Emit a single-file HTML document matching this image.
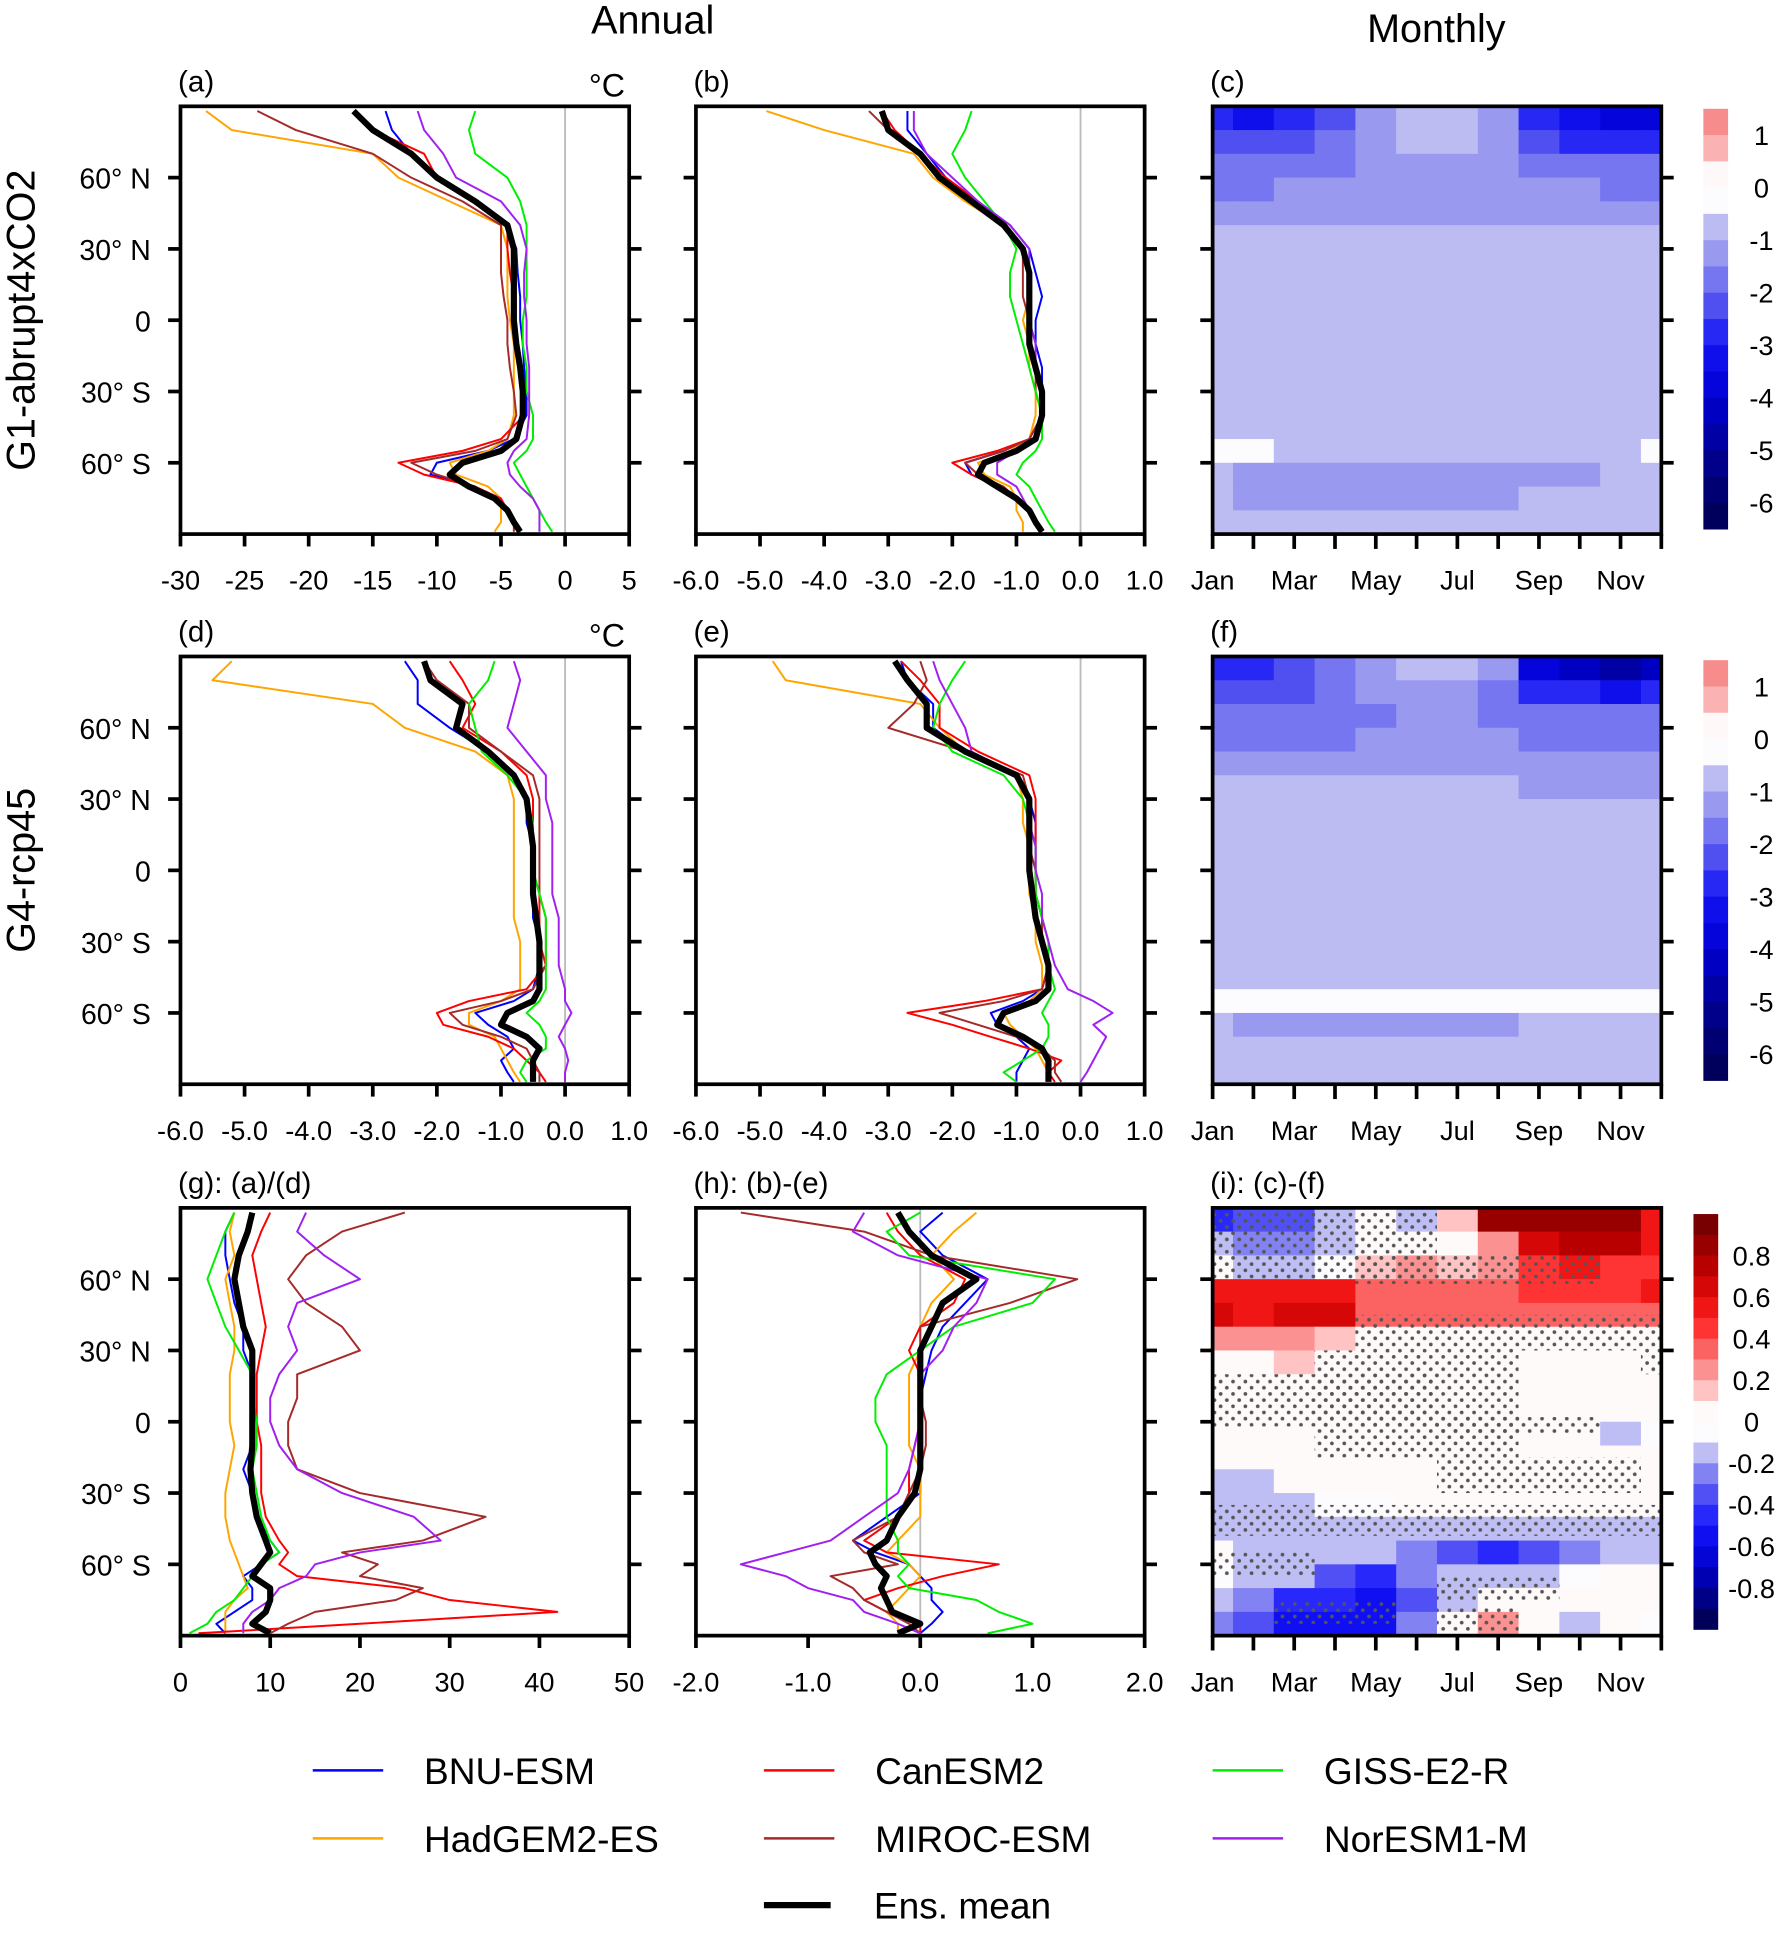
<!DOCTYPE html>
<html><head><meta charset="utf-8"><style>
html,body{margin:0;padding:0;background:#fff}
svg{display:block}
text{font-family:"Liberation Sans",sans-serif;fill:#000}
</style></head><body>
<svg id="fig" width="1780" height="1941" viewBox="0 0 1440 1570" preserveAspectRatio="none" xmlns="http://www.w3.org/2000/svg">
<defs>
<pattern id="stip" width="10" height="10" patternUnits="userSpaceOnUse"><circle cx="2.5" cy="2.5" r="1.5" fill="#555"/><circle cx="7.5" cy="7.5" r="1.5" fill="#555"/></pattern>
</defs>
</svg>
<script>
const lats=[88,80,70,60,50,40,30,20,10,0,-10,-20,-30,-40,-50,-55,-60,-65,-70,-75,-80,-85,-89];
const seriesNames=["BNU-ESM","HadGEM2-ES","CanESM2","MIROC-ESM","GISS-E2-R","NorESM1-M","Ens. mean"];
const seriesColors=["#0000ff","#ffa500","#ff0000","#a52a2a","#00ee00","#a020f0","#000000"];
// panel a
const aBNU=[-14,-13.5,-12,-10,-7,-4.5,-3.8,-3.7,-3.5,-3.5,-3.3,-3.2,-3,-3,-4,-6,-10,-10.5,-7,-5.5,-4.5,-4,-3.5];
const aHad=[-28,-26,-15,-13,-9,-5,-4.5,-4.5,-4.5,-4.3,-4,-4,-4,-4,-4.5,-6,-9,-8.5,-6,-5,-5,-5,-5.5];
const aCan=[-16.5,-15,-11,-10,-7,-4.5,-4.5,-4.3,-4,-4,-3.8,-3.5,-3.3,-3.2,-5,-8,-13,-11,-7,-5,-4.5,-4,-3.5];
const aMIR=[-24,-21,-15,-12,-8,-5,-5,-5,-4.8,-4.5,-4.5,-4.3,-4,-3.8,-4.5,-7,-12,-10,-7,-5.5,-4.5,-4,-4];
const aGIS=[-7,-7.5,-7,-4.5,-3.5,-3,-3,-3,-3,-3.3,-3.3,-3,-3,-2.5,-2.5,-3,-4,-3.5,-3,-2.5,-2,-1.5,-1];
const aNor=[-11.5,-11,-9.5,-8.5,-5,-3.5,-3,-3.2,-3.2,-3,-3,-2.8,-2.8,-2.8,-3,-4,-4.5,-4.3,-3.5,-2.5,-2,-2,-2];
const aEns=[-16.5,-15,-12,-10,-7,-4.5,-4,-4,-4,-4,-3.8,-3.5,-3.3,-3.3,-3.8,-5,-8,-9,-7.5,-5.5,-4.5,-4,-3.5];
// panel b
const bBNU=[-2.7,-2.7,-2.4,-2.1,-1.6,-1.1,-0.8,-0.7,-0.6,-0.7,-0.7,-0.6,-0.6,-0.6,-0.8,-1.2,-1.8,-1.7,-1.3,-1,-0.8,-0.7,-0.6];
const bHad=[-4.9,-4,-2.6,-2.3,-1.8,-1.2,-0.9,-0.8,-0.8,-0.9,-0.8,-0.8,-0.7,-0.7,-0.8,-1.1,-1.6,-1.5,-1.1,-1,-1,-0.9,-0.9];
const bCan=[-3.1,-2.9,-2.5,-2.1,-1.6,-1.2,-0.9,-0.8,-0.8,-0.8,-0.8,-0.7,-0.6,-0.6,-0.8,-1.3,-2,-1.7,-1.3,-1,-0.8,-0.7,-0.6];
const bMIR=[-3.3,-3,-2.5,-2.2,-1.7,-1.2,-0.9,-0.9,-0.9,-0.8,-0.8,-0.7,-0.7,-0.6,-0.8,-1.2,-1.8,-1.6,-1.2,-1,-0.8,-0.7,-0.6];
const bGIS=[-1.7,-1.8,-2,-1.8,-1.5,-1.2,-1,-1.1,-1.1,-1,-0.9,-0.8,-0.7,-0.6,-0.6,-0.7,-0.9,-1,-0.8,-0.7,-0.6,-0.5,-0.4];
const bNor=[-2.6,-2.6,-2.4,-2,-1.6,-1.1,-0.8,-0.8,-0.8,-0.8,-0.7,-0.7,-0.6,-0.6,-0.7,-1,-1.3,-1.3,-1,-0.9,-0.8,-0.7,-0.6];
const bEns=[-3.1,-3,-2.5,-2.2,-1.7,-1.2,-0.9,-0.8,-0.8,-0.8,-0.8,-0.7,-0.6,-0.6,-0.7,-1,-1.5,-1.6,-1.3,-1,-0.8,-0.7,-0.6];
// panel d
const dBNU=[-2.5,-2.3,-2.3,-1.8,-1.2,-0.8,-0.6,-0.6,-0.5,-0.5,-0.5,-0.5,-0.4,-0.4,-0.5,-0.8,-1.4,-1.2,-0.9,-0.8,-1,-0.9,-0.8];
const dHad=[-5.2,-5.5,-3,-2.5,-1.4,-0.9,-0.8,-0.8,-0.8,-0.8,-0.8,-0.8,-0.7,-0.7,-0.7,-1,-1.5,-1.5,-1.1,-1,-0.9,-0.8,-0.7];
const dCan=[-1.8,-1.6,-1.4,-1.6,-1,-0.6,-0.5,-0.5,-0.5,-0.5,-0.4,-0.4,-0.4,-0.3,-0.6,-1.5,-2,-1.9,-1.2,-0.8,-0.6,-0.4,-0.3];
const dMIR=[-2.2,-2,-1.5,-1.5,-1,-0.5,-0.4,-0.4,-0.4,-0.4,-0.4,-0.3,-0.3,-0.3,-0.5,-1,-1.8,-1.6,-1,-0.6,-0.5,-0.4,-0.4];
const dGIS=[-1.1,-1.2,-1.5,-1.4,-1.3,-0.9,-0.6,-0.5,-0.5,-0.5,-0.4,-0.3,-0.3,-0.3,-0.3,-0.4,-0.6,-0.4,-0.3,-0.3,-0.6,-0.7,-0.6];
const dNor=[-0.8,-0.7,-0.8,-0.9,-0.6,-0.3,-0.3,-0.2,-0.2,-0.2,-0.2,-0.1,-0.1,-0.1,0,0,0.1,0,-0.1,0,0.05,0,0];
const dEns=[-2.2,-2.1,-1.6,-1.7,-1.2,-0.8,-0.6,-0.55,-0.5,-0.5,-0.5,-0.45,-0.4,-0.4,-0.4,-0.5,-0.9,-1,-0.6,-0.4,-0.5,-0.5,-0.5];
// panel e
const eBNU=[-2.8,-2.7,-2.3,-2.3,-1.8,-1,-0.8,-0.7,-0.7,-0.7,-0.7,-0.6,-0.6,-0.5,-0.6,-0.9,-1.4,-1.3,-1,-0.8,-0.9,-1,-1];
const eHad=[-4.8,-4.6,-2.5,-2.2,-1.8,-1,-0.9,-0.9,-0.8,-0.8,-0.8,-0.7,-0.7,-0.6,-0.6,-0.8,-1.2,-1.1,-0.9,-0.7,-0.6,-0.5,-0.5];
const eCan=[-2.8,-2.5,-2.2,-2.2,-1.6,-0.8,-0.7,-0.7,-0.7,-0.7,-0.7,-0.6,-0.5,-0.5,-0.6,-1.5,-2.7,-2,-1.4,-0.8,-0.3,-0.5,-0.4];
const eMIR=[-2.5,-2.4,-2.6,-3,-1.8,-0.9,-0.8,-0.8,-0.8,-0.7,-0.7,-0.6,-0.6,-0.5,-0.6,-1.2,-2.2,-1.6,-1,-0.6,-0.4,-0.4,-0.3];
const eGIS=[-1.8,-2,-2.2,-2.3,-2,-1.2,-0.9,-0.8,-0.7,-0.7,-0.7,-0.6,-0.5,-0.5,-0.4,-0.5,-0.6,-0.5,-0.5,-0.6,-0.9,-1.2,-1];
const eNor=[-2.3,-2.2,-2,-1.8,-1.7,-1,-0.8,-0.8,-0.7,-0.7,-0.6,-0.6,-0.5,-0.4,-0.2,0.2,0.5,0.2,0.4,0.3,0.2,0.1,0];
const eEns=[-2.9,-2.7,-2.4,-2.4,-1.8,-1,-0.8,-0.8,-0.8,-0.8,-0.75,-0.7,-0.6,-0.5,-0.5,-0.7,-1.2,-1.3,-0.9,-0.6,-0.5,-0.5,-0.5];
// panel g
const gBNU=[6,5,5,5.5,6,7,7,8,8,8,8,7,8,8.5,10,11,9,7,8,8,6,4,5];
const gHad=[6,5.5,6,5,5.5,6,6,5.5,5.5,5.5,6,5.5,5,5,5.5,6,6.5,7,7.5,6,5,5,5];
const gCan=[10,9,8,8.5,9,9.5,9,8.5,8.5,8.5,9,9,9,9.5,11,12,11,13,25,30,42,20,2];
const gMIR=[25,18,14,12,14,18,20,13,13,12,12,13,20,34,27,18,22,20,27,24,15,12,10];
const gGIS=[6,5,4,3,4,5,6.5,8,8,8.5,8.5,8,8.5,9,10,11,9,8,7,6,4,3,1];
const gNor=[14,13,16,20,13,12,13,11,10,10,11,13,18,26,29,20,15,14,11,10,8,7,7];
const gEns=[8,7.5,6.5,6,6.5,7,8,8,8,8,8,7.8,8,8.5,9.5,10,9,8,10,10,9.5,8,10];
// panel h
const hBNU=[0.2,0,0.2,0.6,0.4,0.2,0.1,0.05,0,0,0,0,0,-0.3,-0.6,-0.4,-0.1,0,0.1,0.1,0.2,0.1,0];
const hHad=[0.5,0.3,0.1,0.3,0.1,0,0,-0.1,-0.1,-0.1,-0.1,0,0,0,-0.2,-0.3,-0.1,0,-0.1,-0.2,-0.3,-0.2,-0.2];
const hCan=[-0.3,-0.2,0,0.4,0.3,0,-0.1,0,0,0,-0.05,-0.1,-0.1,-0.2,-0.5,-0.3,0.7,0.2,-0.2,-0.5,-0.3,0,0];
const hMIR=[-1.6,-0.5,0.1,1.4,0.8,0,0,0,0,0.05,0.05,0,-0.1,-0.2,-0.6,-0.5,-0.2,-0.8,-0.6,-0.5,-0.3,-0.1,0];
const hGIS=[0,-0.3,-0.1,1.2,1,0.3,0,-0.3,-0.4,-0.4,-0.3,-0.3,-0.3,-0.3,-0.2,-0.2,-0.1,-0.2,-0.1,0.5,0.7,1,0.6];
const hNor=[-0.5,-0.6,-0.2,0.6,0.5,0.3,0.2,0,0,0,-0.05,-0.1,-0.2,-0.5,-0.8,-1.2,-1.6,-1.2,-1,-0.6,-0.5,-0.2,0];
const hEns=[-0.2,-0.1,0.1,0.5,0.2,0.1,0,0,0,0,0,0,-0.05,-0.2,-0.3,-0.45,-0.4,-0.3,-0.35,-0.3,-0.25,0,-0.2];
// heatmaps (rows: lat 85..-85 step 10; 12 months)
const hmLats=[85,75,65,55,45,35,25,15,5,-5,-15,-25,-35,-45,-55,-65,-75,-85];
const monthLabels=["Jan","Mar","May","Jul","Sep","Nov"];
const mapC=[
[-3,-3.5,-3,-2.5,-1.5,-1,-1,-1.5,-3,-3.5,-4,-4],
[-2.5,-2.5,-2.5,-2,-1.5,-1,-1,-1.5,-2.5,-3,-3,-3],
[-2,-2,-2,-1.8,-1.5,-1.2,-1.2,-1.5,-2,-2,-2,-2],
[-1.6,-1.6,-1.5,-1.5,-1.3,-1.2,-1.2,-1.3,-1.5,-1.5,-1.6,-1.6],
[-1.2,-1.2,-1.2,-1.2,-1.1,-1.1,-1.1,-1.2,-1.2,-1.3,-1.3,-1.2],
[-0.9,-0.9,-0.9,-0.9,-0.9,-0.9,-0.9,-0.9,-0.9,-0.9,-0.9,-0.9],
[-0.9,-0.9,-0.9,-0.9,-0.9,-0.9,-0.9,-0.9,-0.9,-0.9,-0.9,-0.9],
[-0.9,-0.9,-0.9,-0.9,-0.9,-0.9,-0.9,-0.9,-0.9,-0.9,-0.9,-0.9],
[-0.9,-0.9,-0.9,-0.9,-0.9,-0.9,-0.9,-0.9,-0.9,-0.9,-0.9,-0.9],
[-0.9,-0.9,-0.9,-0.9,-0.9,-0.9,-0.9,-0.9,-0.9,-0.9,-0.9,-0.9],
[-0.9,-0.9,-0.9,-0.9,-0.9,-0.9,-0.9,-0.9,-0.9,-0.9,-0.9,-0.9],
[-0.9,-0.9,-0.9,-0.9,-0.9,-0.9,-0.9,-0.9,-0.9,-0.9,-0.9,-0.9],
[-0.9,-0.9,-0.9,-0.9,-0.9,-0.9,-0.9,-0.9,-0.9,-0.9,-0.9,-0.9],
[-0.9,-0.9,-0.9,-0.9,-0.9,-0.9,-0.9,-0.9,-0.9,-0.9,-0.9,-0.9],
[-0.2,-0.2,-0.9,-0.9,-0.9,-0.9,-0.9,-0.9,-0.9,-0.9,-0.9,-0.2],
[-0.9,-1.1,-1.1,-1.2,-1.3,-1.5,-1.5,-1.3,-1.2,-1.1,-0.9,-0.9],
[-0.9,-1.1,-1.1,-1.1,-1.1,-1.1,-1.1,-1.1,-1,-0.9,-0.9,-0.9],
[-0.9,-0.9,-0.9,-0.9,-0.9,-0.9,-0.9,-0.9,-0.9,-0.9,-0.9,-0.9]];
const mapF=[
[-3,-3,-2.5,-2,-1.5,-0.8,-1,-1.5,-4,-4.5,-5,-4.5],
[-2.5,-2.5,-2.3,-2,-1.5,-1.2,-1.3,-1.8,-2.8,-3,-3.3,-3],
[-2,-2,-2,-1.8,-1.6,-1.5,-1.5,-1.6,-2,-2,-2,-2],
[-1.6,-1.6,-1.6,-1.6,-1.5,-1.5,-1.5,-1.5,-1.6,-1.6,-1.6,-1.6],
[-1.2,-1.2,-1.2,-1.2,-1.2,-1.2,-1.2,-1.2,-1.3,-1.3,-1.3,-1.2],
[-0.9,-0.9,-0.9,-0.9,-0.9,-0.9,-0.9,-0.9,-1.1,-1.1,-1.1,-1.1],
[-0.9,-0.9,-0.9,-0.9,-0.9,-0.9,-0.9,-0.9,-0.9,-0.9,-0.9,-0.9],
[-0.9,-0.9,-0.9,-0.9,-0.9,-0.9,-0.9,-0.9,-0.9,-0.9,-0.9,-0.9],
[-0.9,-0.9,-0.9,-0.9,-0.9,-0.9,-0.9,-0.9,-0.9,-0.9,-0.9,-0.9],
[-0.9,-0.9,-0.9,-0.9,-0.9,-0.9,-0.9,-0.9,-0.9,-0.9,-0.9,-0.9],
[-0.9,-0.9,-0.9,-0.9,-0.9,-0.9,-0.9,-0.9,-0.9,-0.9,-0.9,-0.9],
[-0.9,-0.9,-0.9,-0.9,-0.9,-0.9,-0.9,-0.9,-0.9,-0.9,-0.9,-0.9],
[-0.9,-0.9,-0.9,-0.9,-0.9,-0.9,-0.9,-0.9,-0.9,-0.9,-0.9,-0.9],
[-0.9,-0.9,-0.9,-0.9,-0.9,-0.9,-0.9,-0.9,-0.9,-0.9,-0.9,-0.9],
[-0.2,-0.2,-0.2,-0.2,-0.2,-0.2,-0.2,-0.2,-0.2,-0.2,-0.2,-0.2],
[-0.9,-1.1,-1.1,-1.2,-1.2,-1.3,-1.2,-1.1,-0.9,-0.9,-0.9,-0.9],
[-0.9,-0.9,-0.9,-0.9,-0.9,-0.9,-0.9,-0.9,-0.9,-0.9,-0.9,-0.9],
[-0.9,-0.9,-0.9,-0.9,-0.9,-0.9,-0.9,-0.9,-0.9,-0.9,-0.9,-0.9]];
const mapI=[
[-0.5,-0.4,-0.4,-0.2,0,-0.15,0.15,0.8,0.85,0.85,0.85,0.5],
[-0.2,-0.3,-0.3,-0.15,0.05,0.05,0.05,0.25,0.6,0.7,0.75,0.5],
[0.02,-0.2,-0.15,-0.1,0.15,0.25,0.15,0.25,0.4,0.5,0.45,0.4],
[0.5,0.5,0.5,0.5,0.35,0.35,0.35,0.35,0.4,0.45,0.4,0.55],
[0.6,0.55,0.6,0.6,0.3,0.3,0.3,0.3,0.3,0.3,0.3,0.3],
[0.2,0.2,0.2,0.15,0.05,0.05,0.02,0.02,0.02,0.02,0.02,0.02],
[0.05,0.05,0.1,0.05,0.02,0,0,0,0,0,0,0],
[0.02,0.02,0.02,0.02,0,0,0,0,0,0,0,0],
[0,0,0,0,0,0,0,0,0,0,0,0],
[0,0,0,0,0,0,0,0,0,0,-0.12,-0.02],
[0,0,0,0,0,0,0,0,0,0,0,0],
[-0.12,-0.12,0,0,0,0,0,0.02,0,0,0,0],
[-0.12,-0.12,-0.12,-0.1,-0.1,0,0,0,0,0,0,0],
[-0.15,-0.15,-0.15,-0.15,-0.15,-0.15,-0.15,-0.2,-0.2,-0.2,-0.2,-0.15],
[0,-0.12,-0.12,-0.15,-0.15,-0.3,-0.4,-0.45,-0.4,-0.3,-0.15,-0.12],
[-0.1,-0.12,-0.12,-0.35,-0.5,-0.3,-0.2,-0.2,-0.2,-0.1,0.02,0],
[-0.2,-0.3,-0.5,-0.5,-0.6,-0.35,-0.12,0,0,0,0.02,0],
[-0.3,-0.4,-0.6,-0.6,-0.55,-0.3,0,0.2,0,-0.12,0,-0.1]];

const svg=document.getElementById('fig');
const NS="http://www.w3.org/2000/svg";
function el(tag,attrs,parent){const e=document.createElementNS(NS,tag);for(const k in attrs)e.setAttribute(k,attrs[k]);(parent||svg).appendChild(e);return e;}
function txt(s,x,y,size,anchor,parent){const t=el('text',{x:x,y:y,'font-size':size,'text-anchor':anchor||'middle'},parent);t.textContent=s;return t;}

const colX=[146,563,981], W=363, rowY=[86,531,977], H=346;
function yLat(row,lat){return rowY[row]+(90-lat)/180*H;}

function profilePanel(name,col,row,xmin,xmax,ticks,tickLabels,series,zeroLine,label,unit){
  const g=el('g',{});
  
  
  const x0=colX[col], y0=rowY[row];
  const xs=v=>x0+(v-xmin)/(xmax-xmin)*W;
  if(zeroLine){const z=el('line',{x1:xs(0),x2:xs(0),y1:y0,y2:y0+H,stroke:'#bbb','stroke-width':1.5},g);
    }
  series.forEach((arr,i)=>{
    const pts=arr.map((v,j)=>xs(v).toFixed(1)+','+yLat(row,lats[j]).toFixed(1)).join(' ');
    const p=el('polyline',{points:pts,fill:'none',stroke:seriesColors[i],'stroke-width':i==6?5:1.6,'stroke-linejoin':'round'},g);
    
    
  });
  const f=el('rect',{x:x0,y:y0,width:W,height:H,fill:'none',stroke:'#000','stroke-width':3},g);
  
  ticks.forEach((v,i)=>{
    el('line',{x1:xs(v),x2:xs(v),y1:y0+H,y2:y0+H+10,stroke:'#000','stroke-width':3},g);
    const t=txt(tickLabels[i],xs(v),y0+H+45,22,'middle',g);
    
  });
  latAxis(g,x0,row);
  const l=txt(label,x0-2,y0-12,24,'start',g);
  
  if(unit){const u=txt('°C',x0+W-18,y0-8,26,'middle',g);}
}
const latTicks=[60,30,0,-30,-60];
const latLabels=["60° N","30° N","0","30° S","60° S"];
function latAxis(g,x0,row){
  latTicks.forEach((lt,i)=>{
    const y=yLat(row,lt);
    el('line',{x1:x0-10,x2:x0,y1:y,y2:y,stroke:'#000','stroke-width':3},g);
    el('line',{x1:x0+W,x2:x0+W+10,y1:y,y2:y,stroke:'#000','stroke-width':3},g);
    if(x0<200){const t=txt(latLabels[i],x0-24,y+9,23,'end',g);
      }
  });
}
const tA=[-30,-25,-20,-15,-10,-5,0,5], tAl=tA.map(String);
const t6=[-6,-5,-4,-3,-2,-1,0,1], t6l=t6.map(v=>v.toFixed(1));
const tG=[0,10,20,30,40,50], tGl=tG.map(String);
const tH=[-2,-1,0,1,2], tHl=tH.map(v=>v.toFixed(1));
profilePanel('panel-a',0,0,-30,5,tA,tAl,[aBNU,aHad,aCan,aMIR,aGIS,aNor,aEns],true,'(a)',true);
profilePanel('panel-b',1,0,-6,1,t6,t6l,[bBNU,bHad,bCan,bMIR,bGIS,bNor,bEns],true,'(b)',false);
profilePanel('panel-d',0,1,-6,1,t6,t6l,[dBNU,dHad,dCan,dMIR,dGIS,dNor,dEns],true,'(d)',true);
profilePanel('panel-e',1,1,-6,1,t6,t6l,[eBNU,eHad,eCan,eMIR,eGIS,eNor,eEns],true,'(e)',false);
profilePanel('panel-g',0,2,0,50,tG,tGl,[gBNU,gHad,gCan,gMIR,gGIS,gNor,gEns],false,'(g): (a)/(d)',false);
profilePanel('panel-h',1,2,-2,2,tH,tHl,[hBNU,hHad,hCan,hMIR,hGIS,hNor,hEns],true,'(h): (b)-(e)',false);

function mix(a,b,t){return 'rgb('+a.map((v,i)=>Math.round(v+(b[i]-v)*t)).join(',')+')';}
function lerpStops(stops,v){
  if(v<=stops[0][0])return mix(stops[0][1],stops[0][1],0);
  for(let i=1;i<stops.length;i++){if(v<=stops[i][0]){const t=(v-stops[i-1][0])/(stops[i][0]-stops[i-1][0]);return mix(stops[i-1][1],stops[i][1],t);}}
  return mix(stops[stops.length-1][1],stops[stops.length-1][1],0);
}
const tempStops=[[-6.5,[0,0,80]],[-5,[0,0,150]],[-4,[0,0,210]],[-3,[20,20,245]],[-2,[100,100,240]],[-1,[170,170,240]],[-0.5,[205,205,245]],[-0.25,[252,252,255]],[0.25,[255,248,248]],[0.5,[252,205,205]],[1,[248,150,150]],[1.5,[245,130,130]]];
const divStops=[[-0.95,[0,0,90]],[-0.7,[0,0,200]],[-0.5,[20,20,255]],[-0.3,[100,100,240]],[-0.15,[190,190,245]],[-0.05,[252,252,255]],[0.05,[255,250,250]],[0.15,[255,195,195]],[0.3,[250,120,120]],[0.5,[255,30,30]],[0.7,[200,0,0]],[0.95,[120,0,0]]];
function qTemp(v){return lerpStops(tempStops,Math.floor(v*2)/2+0.25);}
function qDiv(v){return lerpStops(divStops,Math.floor(v*10+0.0001)/10+0.05);}

const mw=W/11;
function heatPanel(name,row,data,colorFn){
  const g=el('g',{});
  
  
  const x0=colX[2];
  data.forEach((r,i)=>{
    const yt=yLat(row,hmLats[i]+5), yb=yLat(row,hmLats[i]-5);
    r.forEach((v,m)=>{
      const xl=Math.max(x0,x0+(m-0.5)*mw), xr=Math.min(x0+W,x0+(m+0.5)*mw);
      const c=el('rect',{x:xl,y:yt,width:xr-xl+0.5,height:yb-yt+0.5,fill:colorFn(v)},g);
      
    });
  });
  return g;
}
function heatFrame(g,row,label){
  const x0=colX[2], y0=rowY[row];
  const f=el('rect',{x:x0,y:y0,width:W,height:H,fill:'none',stroke:'#000','stroke-width':3},g);
  
  for(let m=0;m<12;m++){const x=x0+m*W/11;el('line',{x1:x,x2:x,y1:y0+H,y2:y0+H+12,stroke:'#000','stroke-width':3},g);}
  monthLabels.forEach((s,i)=>{const t=txt(s,x0+i*2*mw,y0+H+45,22,'middle',g);
    });
  latAxis(g,x0,row);
  const l=txt(label,x0-2,y0-12,24,'start',g);
  
}
let gc=heatPanel('heatmap-c',0,mapC,qTemp);heatFrame(gc,0,'(c)');
let gf=heatPanel('heatmap-f',1,mapF,qTemp);heatFrame(gf,1,'(f)');
let gi=heatPanel('heatmap-i',2,mapI,qDiv);
// stippling regions [month start, month end, lat top, lat bottom]
const stipRegions=[[0,6,88,60],[4,10,70,58],[4,12,45,30],[0,6,20,-2],[6,10,2,-5],[3,8,30,-15],[6,11,-15,-30],[0,12,-35,-48],[0,3,-55,-65],[6,9,-65,-75],[2,5,-75,-85],[6,8,-78,-88],[11,12,30,20]];
stipRegions.forEach(s=>{
  const x0=colX[2];
  const xl=Math.max(x0,x0+(s[0]-0.5)*mw), xr=Math.min(x0+W,x0+(s[1]-0.5)*mw);
  const r=el('rect',{x:xl,y:yLat(2,s[2]),width:xr-xl,height:yLat(2,s[3])-yLat(2,s[2]),fill:'url(#stip)'},gi);
  
});
heatFrame(gi,2,'(i): (c)-(f)');

// colorbars
function colorbar(name,x,y,w,h,levels,colorFn,labels,labelVals){
  const g=el('g',{});
  
  
  const n=levels.length, bh=h/n;
  levels.forEach((v,i)=>{const r=el('rect',{x:x,y:y+i*bh,width:w,height:bh+0.3,fill:colorFn(v)},g);
    });
  labels.forEach((s,i)=>{const t=txt(s,x+w+27,y+labelVals[i]*bh+8,22,'middle',g);
    });
}
const cbTempLevels=[1.25,0.75,0.25,-0.25,-0.75,-1.25,-1.75,-2.25,-2.75,-3.25,-3.75,-4.25,-4.75,-5.25,-5.75,-6.25];
const cbTempLabels=["1","0","-1","-2","-3","-4","-5","-6"];
const cbTempPos=[1,3,5,7,9,11,13,15];
colorbar('colorbar-c',1378,88,20,340,cbTempLevels,qTemp,cbTempLabels,cbTempPos);
colorbar('colorbar-f',1378,534,20,340,cbTempLevels,qTemp,cbTempLabels,cbTempPos);
const cbDivLevels=[0.95,0.85,0.75,0.65,0.55,0.45,0.35,0.25,0.15,0.05,-0.05,-0.15,-0.25,-0.35,-0.45,-0.55,-0.65,-0.75,-0.85,-0.95];
const cbDivLabels=["0.8","0.6","0.4","0.2","0","-0.2","-0.4","-0.6","-0.8"];
const cbDivPos=[2,4,6,8,10,12,14,16,18];
colorbar('colorbar-i',1370,982,20,336,cbDivLevels,qDiv,cbDivLabels,cbDivPos);

// titles
let t;
t=txt('Annual',528,27,32,'middle');
t=txt('Monthly',1162,34,32,'middle');
t=txt('G1-abrupt4xCO2',0,0,32,'middle');t.setAttribute('transform','translate(28,259) rotate(-90)');

t=txt('G4-rcp45',0,0,32,'middle');t.setAttribute('transform','translate(28,704) rotate(-90)');


// legend
const legX=[253,618,981], legY=[1432,1487];
const legOrder=[0,2,4,1,3,5];
legOrder.forEach((si,k)=>{
  const g=el('g',{});
  
  
  const x=legX[k%3], y=legY[Math.floor(k/3)];
  el('line',{x1:x,x2:x+57,y1:y,y2:y,stroke:seriesColors[si],'stroke-width':2},g);
  txt(seriesNames[si],x+90,y+11,30,'start',g);
});
const ge=el('g',{});


el('line',{x1:618,x2:672,y1:1541,y2:1541,stroke:'#000','stroke-width':5},ge);
txt('Ens.  mean',707,1552,30,'start',ge).setAttribute('xml:space','preserve');
</script>
</body></html>
